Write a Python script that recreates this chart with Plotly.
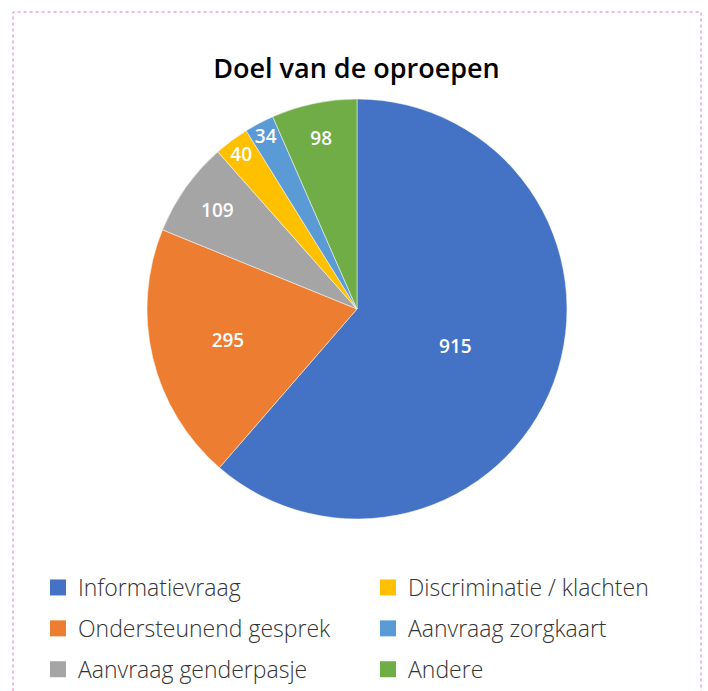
import plotly.graph_objects as go

categories = ["Informatievraag", "Ondersteunend gesprek", "Aanvraag genderpasje",
              "Discriminatie / klachten", "Aanvraag zorgkaart", "Andere"]
values = [915, 295, 109, 40, 34, 98]
colors = ["#4472C4", "#ED7D31", "#A5A5A5", "#FFC000", "#5B9BD5", "#70AD47"]
title_text = "Doel van de oproepen"

W, H = 708, 691
cx, cy, r = 357, 309, 210

fig = go.Figure()
fig.add_trace(go.Pie(
    labels=categories, values=values, sort=False, direction="clockwise", rotation=0,
    marker=dict(colors=colors, line=dict(color="white", width=0.5)),
    textinfo="value", textposition="inside", insidetextorientation="horizontal",
    textfont=dict(family="Open Sans", size=19, color="white", weight=600),
    showlegend=False, hoverinfo="label+value",
    domain=dict(x=[(cx - r) / W, (cx + r) / W], y=[(H - cy - r) / H, (H - cy + r) / H]),
))

for i, (lab, col) in enumerate(zip(categories, colors)):
    fig.add_trace(go.Scatter(
        x=[None], y=[None], mode="markers", name=lab,
        marker=dict(symbol="square", size=16, color=col),
        legend="legend" if i < 3 else "legend2",
        legendgroup=lab, showlegend=True,
    ))

legend_common = dict(
    orientation="v", yanchor="top", xanchor="left", y=1 - 566 / H,
    font=dict(family="Open Sans", size=23, color="#333333", weight=300),
    bgcolor="rgba(0,0,0,0)", tracegroupgap=8, itemclick=False, itemdoubleclick=False,
)

fig.update_layout(
    width=W, height=H,
    margin=dict(l=0, r=0, t=0, b=0),
    paper_bgcolor="white", plot_bgcolor="white",
    uniformtext=dict(minsize=19, mode="show"),
    title=dict(text=title_text, x=356.5 / W, xanchor="center", y=1 - 69 / H, yanchor="middle",
               font=dict(family="Open Sans", size=27, color="#000000", weight=600)),
    xaxis=dict(visible=False), yaxis=dict(visible=False),
    legend=dict(x=38 / W, **legend_common),
    legend2=dict(x=368 / W, **legend_common),
    shapes=[dict(type="rect", xref="paper", yref="paper",
                 x0=13 / W, x1=701 / W, y0=-0.05, y1=1 - 12 / H,
                 line=dict(color="#DB7AB5", width=1, dash="dot"))],
)

fig.write_html("out.html")
